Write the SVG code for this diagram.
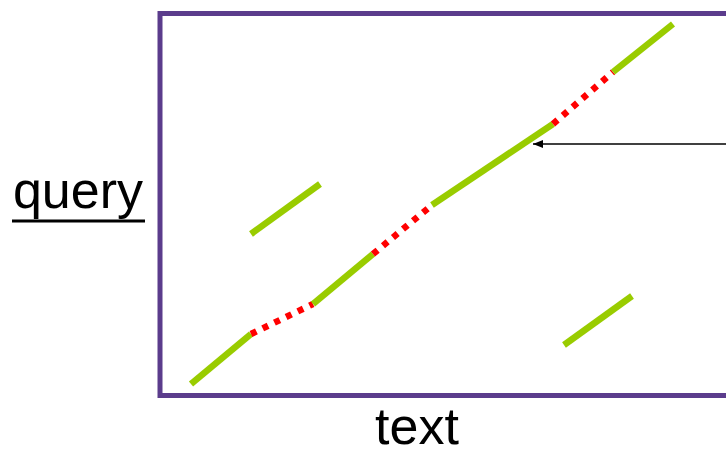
<svg xmlns="http://www.w3.org/2000/svg" width="726" height="450" viewBox="0 0 726 450">
<defs>
<style>
.g{stroke:#99CC00;stroke-width:6.5;fill:none}
.r{stroke:#FF0000;stroke-width:6.5;fill:none;stroke-dasharray:6 7}
.lbl{font-family:"Liberation Sans",Arial,sans-serif;font-size:52px;fill:#000}
</style>
<marker id="ah" markerWidth="10" markerHeight="8" refX="10" refY="4" orient="auto" markerUnits="userSpaceOnUse">
<path d="M0,0 L10,4 L0,8 Z" fill="#000"/>
</marker>
</defs>
<rect width="726" height="450" fill="#fff"/>
<g id="frame"><rect x="160" y="13.5" width="600" height="382" fill="none" stroke="#5B3C8C" stroke-width="5"/></g>
<g id="chain">
<line class="g" x1="191" y1="384" x2="251" y2="334"/>
<line class="r" x1="251" y1="334" x2="313" y2="304"/>
<line class="g" x1="313" y1="304" x2="373" y2="254"/>
<line class="r" x1="373" y1="254" x2="432" y2="205"/>
<line class="g" x1="432" y1="205" x2="553" y2="124"/>
<line class="r" x1="553" y1="124" x2="613" y2="72"/>
<line class="g" x1="613" y1="72" x2="673" y2="24"/>
</g>
<g id="seg1"><line class="g" x1="251" y1="234" x2="320" y2="184"/></g>
<g id="seg2"><line class="g" x1="564" y1="345" x2="632" y2="296"/></g>
<g id="connectors"><line x1="726" y1="144" x2="533" y2="144" stroke="#000" stroke-width="1.5" marker-end="url(#ah)"/></g>
<g id="labels">
<text class="lbl" x="78" y="208" text-anchor="middle">query</text>
<line x1="12" y1="221" x2="145" y2="221" stroke="#000" stroke-width="3"/>
<text class="lbl" x="417" y="444" text-anchor="middle">text</text>
</g>
</svg>
